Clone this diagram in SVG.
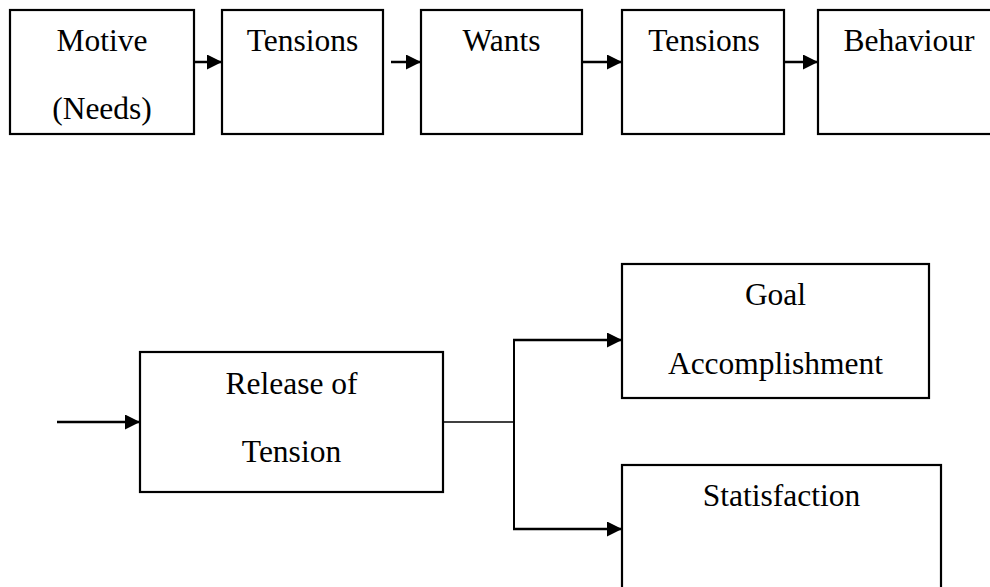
<svg xmlns="http://www.w3.org/2000/svg" width="990" height="587" viewBox="0 0 990 587">
<defs>
<marker id="ah" markerWidth="16" markerHeight="16" refX="15" refY="7.5" orient="auto" markerUnits="userSpaceOnUse">
<path d="M0,0 L15,7.5 L0,15 Z" fill="#000"/>
</marker>
<style>
.box{fill:#fff;stroke:#000;stroke-width:2.2}
.t{font-family:"Liberation Serif","Times New Roman",serif;font-size:31.5px;fill:#000;text-anchor:middle}
.c{fill:none;stroke:#000;stroke-width:2.5}
.thin{fill:none;stroke:#000;stroke-width:1.5}
</style>
</defs>
<rect width="990" height="587" fill="#fff"/>
<g id="motive"><rect class="box" x="10" y="10" width="184" height="124"/><text class="t" x="102" y="51">Motive</text><text class="t" x="102" y="119">(Needs)</text></g>
<g id="tensions1"><rect class="box" x="222" y="10" width="161" height="124"/><text class="t" x="302.5" y="51">Tensions</text></g>
<g id="wants"><rect class="box" x="421" y="10" width="161" height="124"/><text class="t" x="501.5" y="51">Wants</text></g>
<g id="tensions2"><rect class="box" x="622" y="10" width="162" height="124"/><text class="t" x="704" y="51">Tensions</text></g>
<g id="behaviour"><rect class="box" x="818" y="10" width="200" height="124"/><text class="t" x="909" y="51">Behaviour</text></g>
<g id="release"><rect class="box" x="140" y="352" width="303" height="140"/><text class="t" x="291.5" y="394">Release of</text><text class="t" x="291.5" y="462">Tension</text></g>
<g id="goal"><rect class="box" x="622" y="264" width="307" height="134"/><text class="t" x="775.5" y="305">Goal</text><text class="t" x="775.5" y="374">Accomplishment</text></g>
<g id="satisfaction"><rect class="box" x="622" y="465" width="319" height="140"/><text class="t" x="781.5" y="506">Statisfaction</text></g>
<g id="connectors">
<line class="c" x1="194" y1="62" x2="222" y2="62" marker-end="url(#ah)"/>
<line class="c" x1="391" y1="62" x2="421" y2="62" marker-end="url(#ah)"/>
<line class="c" x1="582" y1="62" x2="622" y2="62" marker-end="url(#ah)"/>
<line class="c" x1="784" y1="62" x2="818" y2="62" marker-end="url(#ah)"/>
<line class="c" x1="57" y1="422" x2="140" y2="422" marker-end="url(#ah)"/>
<line class="thin" x1="443" y1="422" x2="514" y2="422"/>
<line class="c" x1="514" y1="339" x2="514" y2="530" style="stroke-width:2"/>
<line class="c" x1="513" y1="340" x2="622" y2="340" marker-end="url(#ah)"/>
<line class="c" x1="513" y1="529" x2="622" y2="529" marker-end="url(#ah)"/>
</g>
</svg>
